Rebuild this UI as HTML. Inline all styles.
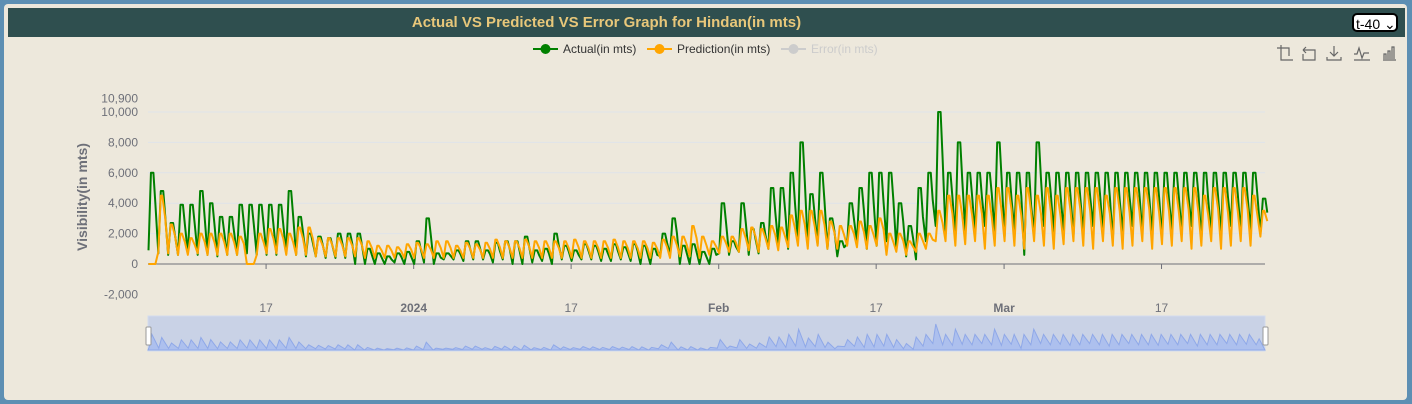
<!DOCTYPE html>
<html><head><meta charset="utf-8"><style>
body{margin:0;width:1412px;height:404px;background:#5d8fb3;font-family:"Liberation Sans",sans-serif;overflow:hidden}
#panel{position:absolute;left:4px;top:4px;width:1403px;height:396px;background:#ede8dc;border-radius:4px}
#title{position:absolute;left:8px;top:8px;width:1397px;height:29px;background:#2f4f4f;color:#e8c77a;font-weight:bold;font-size:15px;line-height:29px;text-align:center;box-sizing:border-box;padding-right:200px}
#sel{position:absolute;left:1352px;top:13px;width:46px;height:19px;border:2px solid #000;border-radius:5px;background:#fff;font-size:14px;line-height:18px;box-sizing:border-box;padding-left:2px}
</style></head><body>
<div id="panel"></div>
<div id="title">Actual VS Predicted VS Error Graph for Hindan(in mts)</div>
<div id="sel">t-40 &#8964;</div>
<svg id="c" width="1412" height="404" style="position:absolute;left:0;top:0"></svg>
<script>
const yTicks=[-2000,0,2000,4000,6000,8000,10000,10900];
const xTickLabels=["17","2024","17","Feb","17","Mar","17"];
const xTickDays=[12,27,43,58,74,87,103];
const actualPeak=[6000,4800,2700,3900,3900,4800,4000,3100,3100,3900,3900,3900,3900,3900,4800,3100,2000,1800,1700,2000,2000,2000,1000,700,500,700,800,1500,3000,700,700,900,1500,1500,900,1400,1500,1500,1800,900,1000,2000,1200,900,1300,1200,1000,1300,1100,1300,1200,1000,2000,3000,1200,1300,800,1000,4000,1500,4000,2300,2700,5000,5000,6000,8000,4600,6000,3000,1500,4000,5000,6000,6000,6000,4000,2500,5000,6000,10000,6000,8000,6000,6000,6000,8000,6000,6000,6000,8000,6000,6000,6000,6000,6000,6000,6000,6000,6000,6000,6000,6000,6000,6000,6000,6000,6000,6000,6000,6000,6000,6000,4300];
const actualLow=[900,700,600,600,700,600,600,500,600,600,700,600,600,600,700,600,500,500,400,400,400,0,0,0,0,100,0,0,100,0,300,300,200,300,300,100,300,0,0,100,200,0,300,200,300,300,200,200,300,200,0,0,500,600,0,0,0,0,700,600,800,600,700,1000,1300,1000,1500,1200,1300,1000,500,1300,1400,1000,1200,1500,1000,500,300,1500,2500,2000,1800,2200,2000,2500,2000,1800,2200,600,2000,2500,2000,2200,1800,2000,2500,2000,1500,2000,2500,2000,2000,1800,2200,2000,2500,1500,2000,2000,2500,2000,2200,2000];
const predPeak=[0,4500,2600,2000,1700,2000,2000,2000,2000,1800,0,2000,2300,2300,2000,2400,2400,1700,1700,1700,1700,1700,1500,1200,1200,1100,1300,1400,1300,1500,1500,1200,1400,1300,1400,1600,1500,1500,1600,1500,1500,1500,1500,1600,1500,1500,1500,1600,1500,1500,1500,1400,1600,1800,1800,2500,1800,1500,1800,1800,2300,2400,2300,2500,2400,3200,3500,3500,3500,2800,2500,2500,2800,2500,3000,2000,2000,1500,2000,2000,3500,4500,4500,4500,4500,4500,5000,5000,4500,5000,4500,5000,4500,5000,5000,5000,5000,4500,5000,5000,5000,5000,5000,5000,5000,5000,5000,4500,5000,5000,5000,5000,4500,3500];
const predLow=[0,800,700,600,600,700,600,600,600,600,0,600,700,700,600,600,600,500,500,500,500,500,400,400,400,400,400,400,400,400,400,400,400,400,400,400,400,400,400,400,400,400,400,400,400,400,400,400,400,400,400,400,400,400,500,500,400,600,700,800,800,900,800,1000,900,1100,1200,1000,1200,1000,1000,1200,1100,1000,1200,600,800,600,800,1000,1500,1500,1200,1300,1500,1000,1200,1500,1200,1000,1500,1200,1000,1300,1500,1200,1000,1500,1200,1000,1200,1500,1000,1300,1200,1500,1000,1200,1500,1000,1200,1500,1200,1800];
const NS="http://www.w3.org/2000/svg",svg=document.getElementById('c');
const X0=148,DAY=9.84,Y0=264,PER=15.2/1000;
const xs=d=>X0+d*DAY, ys=v=>Y0-v*PER;
function el(t,a,p){const e=document.createElementNS(NS,t);for(const k in a)e.setAttribute(k,a[k]);(p||svg).appendChild(e);return e;}
yTicks.forEach(v=>{
 if(v>0&&v!==10900){const g=el('line',{x1:148,x2:1265,y1:ys(v),y2:ys(v),stroke:'#dfe3ea','stroke-width':1});
 
 }
 const t=el('text',{x:138,y:ys(v)+4,'text-anchor':'end','font-size':12,fill:'#6e7079'});t.textContent=v.toLocaleString('en-US');
 
 
});
const ax=el('line',{x1:148,x2:1265,y1:Y0,y2:Y0,stroke:'#6e7079'});


xTickLabels.forEach((l,i)=>{
 const x=xs(xTickDays[i]);
 el('line',{x1:x,x2:x,y1:Y0,y2:Y0+5,stroke:'#6e7079'});
 const bold=(l==="2024"||l==="Feb"||l==="Mar");
 const t=el('text',{x:x,y:312,'text-anchor':'middle','font-size':12,fill:'#6e7079','font-weight':bold?'bold':'normal'});t.textContent=l;
 
 
});
const yt=el('text',{x:87,y:197,'text-anchor':'middle','font-size':14,'font-weight':'bold',fill:'#6e7079',transform:'rotate(-90 87 197)'});yt.textContent='Visibility(in mts)';


function pathOf(pk,lo,fx,fy,w){let d='';pk.forEach((p,i)=>{d+=(i?'L':'M')+fx(i+0.05)+','+fy(lo[i])+'L'+fx(i+0.3)+','+fy(p)+'L'+fx(i+0.3+w)+','+fy(p)+'L'+fx(i+0.75)+','+fy(p*0.6+lo[i]*0.4);});return d;}
const pa=el('path',{d:pathOf(actualPeak,actualLow,xs,ys,0.25),fill:'none',stroke:'#008000','stroke-width':2,'stroke-linejoin':'round'});


const pp=el('path',{d:pathOf(predPeak,predLow,xs,ys,0.15),fill:'none',stroke:'#ffa500','stroke-width':2,'stroke-linejoin':'round'});


const leg=[["Actual(in mts)","#008000",533,'#333'],["Prediction(in mts)","#ffa500",647,'#333'],["Error(in mts)","#ccc",781,'#ccc']];
leg.forEach(([n,c,x,tc])=>{
 const g=el('g',{});
 
 
 el('line',{x1:x,x2:x+25,y1:49,y2:49,stroke:c,'stroke-width':2},g);
 el('circle',{cx:x+12.5,cy:49,r:5,fill:c},g);
 const t=el('text',{x:x+30,y:53,'font-size':12,fill:tc},g);t.textContent=n;
});
const tb=el('g',{stroke:'#666',fill:'none','stroke-width':1.2});


el('path',{d:'M1277,48h4v12h12M1281,48v-3M1281,48h8v8'},tb);
el('path',{d:'M1303,50h12v10h-12v-6M1303,50l3,-3M1303,50l3,3'},tb);
el('path',{d:'M1334,46v10M1330,52l4,4l4,-4M1327,57v3h14v-3'},tb);
el('path',{d:'M1354,60h16M1354,54h3l2,-6l3,10l2,-5h5'},tb);
el('path',{d:'M1383,60h13M1384,59v-5h2v5M1388,59v-8h2v8M1392,59v-12h2v12'},tb);
const dz=el('g',{});


el('rect',{x:148,y:316,width:1117,height:35,fill:'#c9d2e6',stroke:'#d2dbee'},dz);
const sx=d=>148+d*(1117/114), sy=v=>350-v*0.0026;
let ad='M148,350';actualPeak.forEach((p,i)=>{ad+='L'+sx(i+0.1)+','+sy(actualLow[i])+'L'+sx(i+0.4)+','+sy(p);});ad+='L1265,350Z';
el('path',{d:ad,fill:'#adc0ee',stroke:'#8fa8e8','stroke-width':1},dz);
el('rect',{x:146,y:327,width:5,height:18,rx:1,fill:'#fff',stroke:'#999'},dz);
el('rect',{x:1263,y:327,width:5,height:18,rx:1,fill:'#fff',stroke:'#999'},dz);
</script>
</body></html>
